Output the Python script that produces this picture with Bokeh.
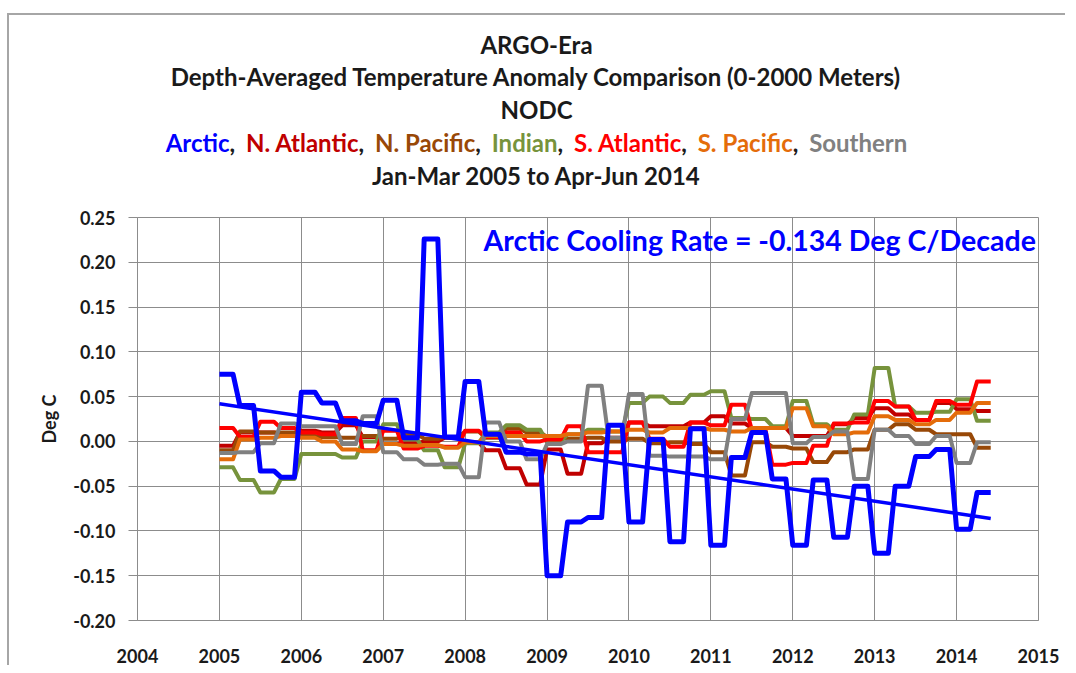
import glob
import os
import numpy as np
from bokeh.plotting import figure
from bokeh.layouts import column
from bokeh.models import Label, FixedTicker, NumeralTickFormatter, Range1d
from bokeh.core.properties import value
from bokeh.embed import file_html
from bokeh.resources import INLINE

# ---------------- data (quarterly, Jan-Mar 2005 .. Apr-Jun 2014) ----------------
start_year = 2005
arctic = [0.075, 0.040, -0.033, -0.040, 0.055, 0.043, 0.023, 0.020, 0.046, 0.004,
          0.226, 0.005, 0.067, 0.008, -0.012, -0.014, -0.150, -0.090, -0.085, 0.018,
          -0.090, 0.002, -0.112, 0.014, -0.116, -0.018, 0.010, -0.042, -0.116, -0.043,
          -0.107, -0.050, -0.125, -0.050, -0.017, -0.009, -0.098, -0.057]
n_atlantic = [-0.005, 0.010, 0.010, 0.008, 0.012, 0.010, 0.018, 0.005, -0.003, -0.002,
              0.000, 0.004, -0.001, -0.010, -0.030, -0.048, -0.009, -0.036, -0.002, 0.004,
              0.021, 0.017, 0.017, 0.021, 0.028, 0.020, 0.015, 0.015, 0.006, 0.006,
              0.019, 0.026, 0.037, 0.030, 0.024, 0.043, 0.036, 0.034]
n_pacific = [-0.010, 0.011, 0.010, 0.010, 0.006, 0.005, 0.004, 0.006, 0.003, 0.008,
             0.003, 0.005, 0.011, 0.004, 0.014, 0.010, 0.005, 0.003, 0.004, 0.000,
             0.003, -0.002, -0.001, -0.003, -0.012, -0.038, -0.001, -0.006, -0.008, -0.023,
             -0.012, -0.009, 0.013, 0.019, 0.013, 0.008, 0.008, -0.007]
indian = [-0.029, -0.043, -0.057, -0.042, -0.014, -0.014, -0.018, 0.000, 0.019, 0.002,
          -0.010, -0.029, -0.002, 0.010, 0.018, 0.013, -0.001, 0.008, 0.013, 0.011,
          0.043, 0.050, 0.043, 0.052, 0.056, 0.026, 0.025, 0.017, 0.045, 0.019,
          0.013, 0.030, 0.082, 0.039, 0.032, 0.033, 0.047, 0.023]
s_atlantic = [0.015, 0.005, 0.022, 0.015, 0.010, 0.008, 0.026, -0.010, 0.012, -0.008,
              -0.005, -0.006, 0.012, 0.005, 0.010, 0.000, 0.002, 0.017, -0.012, -0.012,
              0.021, 0.003, -0.006, 0.021, 0.018, 0.041, 0.013, -0.026, -0.024, -0.005,
              0.020, 0.021, 0.045, 0.039, 0.024, 0.045, 0.041, 0.067]
s_pacific = [-0.020, 0.002, 0.004, 0.006, 0.004, 0.000, -0.009, -0.011, -0.003, -0.005,
             -0.004, -0.007, -0.001, 0.006, 0.006, 0.006, 0.006, 0.008, 0.010, 0.011,
             0.013, 0.010, 0.015, 0.015, 0.013, 0.011, 0.015, 0.015, 0.037, 0.017,
             0.008, 0.010, 0.028, 0.024, 0.019, 0.024, 0.032, 0.043]
southern = [-0.013, -0.012, -0.002, 0.020, 0.017, 0.017, -0.003, 0.028, -0.012, -0.020,
            -0.026, -0.025, -0.040, 0.021, 0.000, -0.020, -0.003, 0.000, 0.062, 0.004,
            0.053, -0.016, -0.017, -0.017, -0.020, 0.025, 0.054, 0.054, -0.002, 0.005,
            0.011, -0.042, 0.013, 0.006, -0.003, 0.006, -0.024, -0.001]
trend_values = [0.042, -0.086]   # Arctic linear trend at first and last month

series_order = ["N. Atlantic", "N. Pacific", "Indian", "S. Atlantic", "S. Pacific", "Southern", "Arctic"]
legend_order = ["Arctic", "N. Atlantic", "N. Pacific", "Indian", "S. Atlantic", "S. Pacific", "Southern"]
series_colors = {"Arctic": "#0000FF", "N. Atlantic": "#C00000", "N. Pacific": "#984807",
                 "Indian": "#77933C", "S. Atlantic": "#FF0000", "S. Pacific": "#E46C0A",
                 "Southern": "#808080"}
series_data = {"Arctic": arctic, "N. Atlantic": n_atlantic, "N. Pacific": n_pacific,
               "Indian": indian, "S. Atlantic": s_atlantic, "S. Pacific": s_pacific,
               "Southern": southern}
title_lines = ["ARGO-Era",
               "Depth-Averaged Temperature Anomaly Comparison (0-2000 Meters)",
               "NODC",
               None,   # coloured list of basins
               "Jan-Mar 2005 to Apr-Jun 2014"]
annotation_text = "Arctic Cooling Rate = -0.134 Deg C/Decade"
x_ticks = list(range(2004, 2016))
y_ticks = [-0.20, -0.15, -0.10, -0.05, 0.00, 0.05, 0.10, 0.15, 0.20, 0.25]

# each quarterly value shown for its three months
n_months = len(arctic) * 3
x_month = start_year + np.arange(n_months) / 12.0


def monthly(q):
    return np.repeat(np.asarray(q, dtype=float), 3)


FONT = "Lato"
DARK = "#1a1a1a"
GRID = "#8c8c8c"
BORDER = "#a6a6a6"

# ---------------- layout (page pixels) ----------------
X0 = 9            # left edge of the figures on the page
Y0 = 15           # top edge of the title strip on the page
WIDTH = 1056
Y_MAIN = 198      # page y where the main figure starts
H_TOP = Y_MAIN - Y0
ML, FW, FH = 128, 901, 405
MR = WIDTH - ML - FW
MT, MB = 19, 43
H_MAIN = MT + FH + MB
F_LEFT, F_RIGHT = X0 + ML, X0 + ML + FW   # page x of the plot frame

# ---------------- title strip ----------------
t = figure(width=WIDTH, height=H_TOP, x_range=Range1d(F_LEFT, F_RIGHT), y_range=Range1d(Y_MAIN, Y0),
           output_backend="svg", toolbar_location=None, x_axis_type=None, y_axis_type=None,
           min_border_left=ML, min_border_right=MR, min_border_top=0, min_border_bottom=0)
t.outline_line_color = None
t.xgrid.visible = False
t.ygrid.visible = False
t.background_fill_color = "white"
t.border_fill_color = "white"


def font_path():
    for pat in ["/usr/share/fonts/**/Lato-Bold.ttf", "/usr/local/share/fonts/**/Lato-Bold.ttf",
                os.path.expanduser("~/.fonts/**/Lato-Bold.ttf"), "/usr/share/fonts/**/Lato*Bold*.ttf"]:
        r = glob.glob(pat, recursive=True)
        if r:
            return r[0]
    return None


FP = font_path()


def text_width(s, size):
    try:
        from PIL import ImageFont
        if FP:
            return ImageFont.truetype(FP, size).getlength(s)
    except Exception:
        pass
    return len(s) * 0.53 * size


TITLE_SIZE = 24
CENTER = 536
GAP = 5           # a little extra room after each comma in the coloured line
line_y = [44, 76, 109, 142, 175]
tx, ty, tt = [], [], []
for s, yy in zip(title_lines, line_y):
    if s is not None:
        tx.append(CENTER)
        ty.append(yy)
        tt.append(s)
t.text(x=tx, y=ty, text=tt, text_font=value(FONT), text_font_style="bold",
       text_font_size=value(f"{TITLE_SIZE}px"), text_color=DARK,
       text_align="center", text_baseline="middle")

pieces = []
for i, name in enumerate(legend_order):
    pieces.append((name, series_colors[name]))
    if i < len(legend_order) - 1:
        pieces.append((", ", DARK))
widths = [text_width(s, TITLE_SIZE) + (GAP if s.startswith(",") else 0) for s, _ in pieces]
cur = CENTER - sum(widths) / 2.0
px, pt, pc = [], [], []
for (s, c), w in zip(pieces, widths):
    px.append(cur)
    pt.append(s.strip())
    pc.append(c)
    cur += w
t.text(x=px, y=[line_y[3]] * len(px), text=pt, text_color=pc, text_font=value(FONT),
       text_font_style="bold", text_font_size=value(f"{TITLE_SIZE}px"),
       text_align="left", text_baseline="middle")

# ---------------- main chart ----------------
p = figure(width=WIDTH, height=H_MAIN, x_range=(2004, 2015), y_range=(-0.20, 0.25),
           output_backend="svg", toolbar_location=None,
           min_border_left=ML, min_border_top=MT,
           min_border_right=MR, min_border_bottom=MB)
p.background_fill_color = "white"
p.border_fill_color = "white"
p.outline_line_color = GRID
p.outline_line_width = 1
p.xgrid.grid_line_color = GRID
p.ygrid.grid_line_color = GRID
p.xgrid.ticker = FixedTicker(ticks=x_ticks)
p.ygrid.ticker = FixedTicker(ticks=y_ticks)

for ax in (p.xaxis[0], p.yaxis[0]):
    ax.axis_line_color = GRID
    ax.major_tick_line_color = GRID
    ax.minor_tick_line_color = None
    ax.major_tick_in = 0
    ax.major_label_text_font = FONT
    ax.major_label_text_font_style = "bold"
    ax.major_label_text_font_size = "18px"
    ax.major_label_text_color = DARK

p.xaxis.ticker = FixedTicker(ticks=x_ticks)
p.xaxis.major_tick_out = 0
p.xaxis.major_label_standoff = 28
p.yaxis.ticker = FixedTicker(ticks=y_ticks)
p.yaxis.formatter = NumeralTickFormatter(format="0.00")
p.yaxis.major_tick_out = 9
p.yaxis.major_label_standoff = 13
p.yaxis.axis_label = "Deg C"
p.yaxis.axis_label_text_font = FONT
p.yaxis.axis_label_text_font_style = "bold"
p.yaxis.axis_label_text_font_size = "18px"
p.yaxis.axis_label_text_color = DARK
p.yaxis.axis_label_standoff = 10

for name in series_order:
    p.line(x_month, monthly(series_data[name]), line_color=series_colors[name],
           line_width=5 if name == "Arctic" else 4, line_join="round")
p.line([x_month[0], x_month[-1]], trend_values, line_color="#0000FF", line_width=3.5)

# annotation, placed inside the plot frame
ax_d = (483 - F_LEFT) / FW * 11.0 + 2004
ay_d = 0.25 - (240 - Y_MAIN - MT) / FH * 0.45
p.add_layout(Label(x=ax_d, y=ay_d, text=annotation_text,
                   text_font=FONT, text_font_style="bold", text_font_size="28.5px",
                   text_color="#0000FF", text_align="left", text_baseline="middle"))

layout = column(t, p, spacing=0,
                styles={"margin-left": f"{X0 - 2}px", "margin-top": f"{Y0 - 2}px",
                        "border-left": f"2px solid {BORDER}", "border-top": f"2px solid {BORDER}"})
open("out.html", "w").write(file_html(layout, INLINE))
